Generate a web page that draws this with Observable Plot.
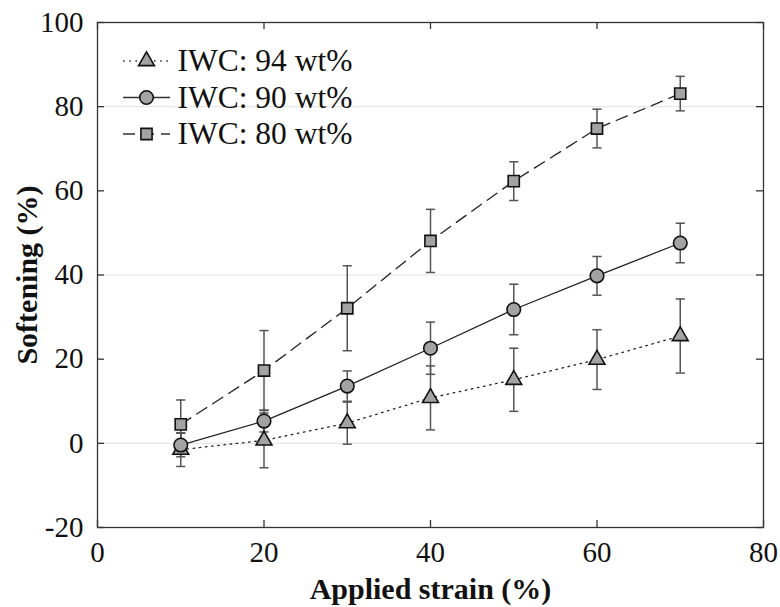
<!DOCTYPE html>
<html><head><meta charset="utf-8">
<script src="https://cdn.jsdelivr.net/npm/d3@7"></script>
<script src="https://cdn.jsdelivr.net/npm/@observablehq/plot@0.6"></script>
<style>body{margin:0;background:#fff}</style>
</head><body><div id="chart"></div>
<script>
// ---- data ----
const strain = [10, 20, 30, 40, 50, 60, 70];
const soft94 = [-1.5, 0.7, 4.8, 10.8, 15.1, 19.9, 25.5];
const err94  = [4.0, 6.5, 5.0, 7.6, 7.5, 7.1, 8.8];
const soft90 = [-0.4, 5.3, 13.6, 22.6, 31.8, 39.8, 47.6];
const err90  = [2.8, 2.6, 3.6, 6.2, 6.0, 4.6, 4.7];
const soft80 = [4.5, 17.3, 32.1, 48.1, 62.3, 74.8, 83.1];
const err80  = [5.8, 9.5, 10.1, 7.5, 4.6, 4.6, 4.1];
const seriesNames = ["IWC: 94 wt%", "IWC: 90 wt%", "IWC: 80 wt%"];
const xTicks = [0, 20, 40, 60, 80];
const yTicks = [-20, 0, 20, 40, 60, 80, 100];
const gridY = [0, 40, 80];
const xLabel = "Applied strain (%)";
const yLabel = "Softening (%)";

// ---- styles ----
const W = 780, H = 607;
const mT = 22, mB = 80, mL = 97, mR = 17;
const innerW = W - mL - mR, innerH = H - mT - mB;
const serif = "'Liberation Serif', 'Times New Roman', serif";
const styles = [
  {symbol: "triangle", r: 5.9, dash: "1.6,4.6"},
  {symbol: "circle", r: 6.8, dash: null},
  {symbol: "square", r: 6.3, dash: "12,7"}
];
const seriesVals = [[soft94, err94], [soft90, err90], [soft80, err80]];

const series = seriesNames.map((name, k) => ({
  name, ...styles[k],
  rows: strain.map((x, i) => ({x, y: seriesVals[k][0][i], e: seriesVals[k][1][i]}))
}));

const capSymbol = {draw(ctx, size) { const w = Math.sqrt(size); ctx.moveTo(-w, 0); ctx.lineTo(w, 0); }};
const legendLine = {draw(ctx) { ctx.moveTo(-23.5, 0); ctx.lineTo(23.5, 0); }};

const marks = [
  Plot.ruleY(gridY, {stroke: "#e6e6e6", strokeWidth: 1.2}),
];
for (const s of series) {
  marks.push(Plot.line(s.rows, {x: "x", y: "y", stroke: "#222", strokeWidth: 1.3, strokeDasharray: s.dash}));
}
for (const s of series) {
  marks.push(
    Plot.ruleX(s.rows, {x: "x", y1: d => d.y - d.e, y2: d => d.y + d.e, stroke: "#555", strokeWidth: 1.5}),
    Plot.dot(s.rows, {x: "x", y: d => d.y + d.e, symbol: capSymbol, r: 2.6, fill: "none", stroke: "#555", strokeWidth: 1.5}),
    Plot.dot(s.rows, {x: "x", y: d => d.y - d.e, symbol: capSymbol, r: 2.6, fill: "none", stroke: "#555", strokeWidth: 1.5})
  );
}
for (const s of series) {
  marks.push(Plot.dot(s.rows, {x: "x", y: "y", symbol: s.symbol, r: s.r, fill: "#a3a3a3", stroke: "#111", strokeWidth: 1.6}));
}
// legend inside the frame
series.forEach((s, i) => {
  const dy = 38.5 + i * 36.5;
  marks.push(
    Plot.dot({length: 1}, {frameAnchor: "top-left", dx: 49, dy, symbol: legendLine, fill: "none", stroke: "#333", strokeWidth: 1.3, strokeDasharray: s.dash}),
    Plot.dot({length: 1}, {frameAnchor: "top-left", dx: 49, dy, symbol: s.symbol, r: s.r, fill: "#a3a3a3", stroke: "#111", strokeWidth: 1.6}),
    Plot.text([s.name], {frameAnchor: "top-left", dx: 80, dy, text: d => d, textAnchor: "start", lineAnchor: "middle", fontSize: 31.5, fontFamily: serif, fill: "#111"})
  );
});
// frame + inward ticks
marks.push(
  Plot.frame({stroke: "#333", strokeWidth: 1.3}),
  Plot.tickX(xTicks, {x: d => d, insetTop: innerH - 7, stroke: "#333", strokeWidth: 1.3}),
  Plot.tickX(xTicks, {x: d => d, insetBottom: innerH - 7, stroke: "#333", strokeWidth: 1.3}),
  Plot.tickY(yTicks, {y: d => d, insetRight: innerW - 7, stroke: "#333", strokeWidth: 1.3}),
  Plot.tickY(yTicks, {y: d => d, insetLeft: innerW - 7, stroke: "#333", strokeWidth: 1.3}),
  Plot.axisX(xTicks, {tickSize: 0, tickPadding: 14, label: null, tickFormat: d => String(d), fontSize: 29, fontFamily: serif, fill: "#111"}),
  Plot.axisY(yTicks, {tickSize: 0, tickPadding: 14, label: null, tickFormat: d => String(d), fontSize: 29, fontFamily: serif, fill: "#111"}),
  Plot.text([xLabel], {frameAnchor: "bottom", dy: 62, text: d => d, lineAnchor: "middle", textAnchor: "middle", fontWeight: "bold", fontSize: 30, fontFamily: serif, fill: "#111"}),
  Plot.text([yLabel], {frameAnchor: "left", dx: -70, rotate: -90, text: d => d, lineAnchor: "middle", textAnchor: "middle", fontWeight: "bold", fontSize: 30, fontFamily: serif, fill: "#111"})
);

const chart = Plot.plot({
  width: W, height: H,
  marginTop: mT, marginBottom: mB, marginLeft: mL, marginRight: mR,
  x: {domain: [0, 80]},
  y: {domain: [-20, 100]},
  style: {fontFamily: serif, fontSize: "29px", background: "#fff", color: "#111"},
  marks
});
document.getElementById("chart").appendChild(chart);
</script>
</body></html>
